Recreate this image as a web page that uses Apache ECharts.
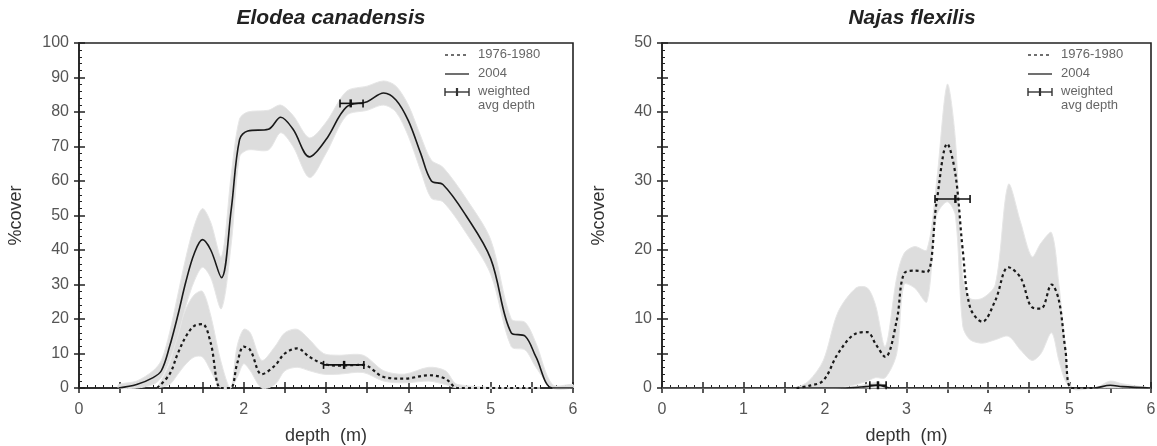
<!DOCTYPE html>
<html>
<head>
<meta charset="utf-8">
<script src="https://cdn.jsdelivr.net/npm/echarts@6/dist/echarts.min.js"></script>
<style>
html, body { margin: 0; background: #fff; }
#main { width: 1157px; height: 446px; }
</style>
</head>
<body>
<div id="main"></div>
<script>
// Elodea canadensis, 1976-1980 (dashed)
const elodeaOldDepth = [0.95, 1.1, 1.2, 1.3, 1.4, 1.5, 1.6, 1.72, 1.84, 1.92, 2.0, 2.08, 2.22, 2.38, 2.5, 2.65, 2.8, 2.97, 3.15, 3.45, 3.7, 3.95, 4.25, 4.45, 4.6, 5.6]
const elodeaOldMean = [0, 4, 10, 15, 18, 18.5, 13, 0, 0, 7, 12, 11, 4, 6.5, 10, 11.5, 9, 7, 6.5, 6.7, 3.2, 2.7, 3.7, 2.7, 0, 0]
const elodeaOldLow = [0, 1, 4, 7, 9, 9, 5, 0, 0, 3, 7, 5, 0, 1, 5, 6, 5, 4, 4, 4.5, 2, 1.5, 2, 1, 0, 0]
const elodeaOldHigh = [0, 7, 16, 23, 27, 28, 21, 8, 0, 12, 17, 16, 8, 12, 16, 17, 14, 10, 9.5, 9.5, 5, 4, 6, 5, 1, 0]

// Elodea canadensis, 2004 (solid)
const elodeaNewDepth = [0.48, 0.7, 0.9, 1.0, 1.1, 1.2, 1.3, 1.4, 1.5, 1.6, 1.73, 1.85, 1.95, 2.05, 2.3, 2.45, 2.6, 2.8, 3.0, 3.25, 3.5, 3.7, 3.85, 4.0, 4.15, 4.28, 4.42, 4.7, 5.0, 5.25, 5.42, 5.55, 5.75, 6.0]
const elodeaNewMean = [0, 1, 3, 5, 12, 21, 31, 39, 43, 40, 32, 52, 72, 74.5, 75, 78.5, 75, 67, 72, 81.5, 83, 85.5, 83.5, 77.5, 68, 60, 59, 50, 37.5, 16, 15, 9, 0, 0]
const elodeaNewLow = [0, 0, 1, 3, 8, 15, 24, 31, 35, 32, 23, 42, 67, 69, 69, 74, 70, 61, 68, 79, 80.5, 82, 80, 73, 63, 55, 54, 45, 33, 12, 11, 6, 0, 0]
const elodeaNewHigh = [1, 2, 5, 8, 16, 27, 38, 47, 52, 48, 38, 62, 78, 80, 80.5, 82, 79, 72.5, 77, 86, 87.5, 89, 87.5, 82, 73, 66, 64, 55, 43, 20, 19, 13, 1, 1]

// Elodea weighted avg depth (2004, 1976-1980)
const elodeaAvgDepth = [3.3, 3.22]
const elodeaAvgCover = [82.5, 6.7]
const elodeaAvgFrom = [3.17, 2.97]
const elodeaAvgTo = [3.45, 3.46]

// Najas flexilis, 1976-1980 (dashed)
const najasOldDepth = [1.65, 1.8, 1.98, 2.16, 2.38, 2.52, 2.62, 2.74, 2.88, 2.97, 3.1, 3.25, 3.37, 3.5, 3.6, 3.69, 3.78, 3.93, 4.09, 4.25, 4.4, 4.54, 4.65, 4.78, 4.87, 4.95, 5.03, 5.3]
const najasOldMean = [0, 0.3, 1.1, 5, 7.9, 8.1, 6.4, 4.5, 9.8, 16.6, 17, 16.8, 27, 35.4, 31, 20, 11.7, 9.6, 12.7, 17.5, 16, 11.7, 11.5, 15, 12.7, 5.5, 0, 0]
const najasOldLow = [0, 0, 0, 0, 0.5, 1, 1.5, 1.5, 5, 15, 14.5, 12.5, 25, 27, 25, 9, 7, 6.5, 7, 7.5, 5.5, 4, 5, 8, 4, 1, 0, 0]
const najasOldHigh = [0, 1, 4, 11, 14.5, 14.5, 12, 6, 16, 19.5, 20.5, 20, 30, 44, 36, 16, 13, 13, 15, 29.5, 24, 19, 21, 22.5, 15, 6, 0, 0]

// Najas flexilis, 2004 (solid)
const najasNewDepth = [0, 2.2, 2.5, 2.65, 2.8, 5.3, 5.5, 5.65, 6]
const najasNewMean = [0, 0, 0.2, 0.4, 0, 0, 0.4, 0.2, 0]
const najasNewLow = [0, 0, 0, 0, 0, 0, 0, 0, 0]
const najasNewHigh = [0, 0, 0.5, 0.8, 0, 0, 1, 0.6, 0]

// Najas weighted avg depth (1976-1980, 2004)
const najasAvgDepth = [3.6, 2.65]
const najasAvgCover = [27.4, 0.4]
const najasAvgFrom = [3.35, 2.55]
const najasAvgTo = [3.78, 2.75]

const titles = ['Elodea canadensis', 'Najas flexilis']
const legendLabels = ['1976-1980', '2004', 'weighted', 'avg depth']
const xLabels = ['0', '1', '2', '3', '4', '5', '6']

const font = 'Liberation Sans, Arial, sans-serif'
const ink = '#222'

function pairs(xs, ys) {
    return xs.map((x, i) => [x, ys[i]])
}

// 灰色区间
function bandSeries(axis, depth, low, high) {
    return {
        type: 'custom',
        xAxisIndex: axis,
        yAxisIndex: axis,
        data: [[depth[0], low[0]]],
        silent: true,
        z: 1,
        renderItem: function (params, api) {
            let pts = []
            for (let i = 0; i < depth.length; i++) pts.push(api.coord([depth[i], high[i]]))
            for (let i = depth.length - 1; i >= 0; i--) pts.push(api.coord([depth[i], low[i]]))
            return {
                type: 'polygon',
                shape: {points: pts, smooth: 0.3},
                style: {fill: '#dddddd', stroke: '#e6e6e6', lineWidth: 1}
            }
        }
    }
}

function lineSeries(axis, depth, mean, dashed) {
    return {
        type: 'line',
        xAxisIndex: axis,
        yAxisIndex: axis,
        data: pairs(depth, mean),
        smooth: 0.35,
        showSymbol: false,
        silent: true,
        z: 3,
        lineStyle: {
            color: '#1a1a1a',
            width: dashed ? 2.2 : 1.6,
            type: dashed ? [3, 3] : 'solid'
        }
    }
}

// 加权平均深度 误差线
function avgSeries(axis, depth, cover, from, to) {
    return {
        type: 'custom',
        xAxisIndex: axis,
        yAxisIndex: axis,
        data: depth.map((d, i) => [d, cover[i], from[i], to[i]]),
        encode: {x: 0, y: 1},
        silent: true,
        z: 5,
        renderItem: function (params, api) {
            let c = api.coord([api.value(0), api.value(1)])
            let l = api.coord([api.value(2), api.value(1)])
            let r = api.coord([api.value(3), api.value(1)])
            let st = {stroke: '#111', lineWidth: 1.6}
            return {
                type: 'group',
                children: [
                    {type: 'line', shape: {x1: l[0], y1: l[1], x2: r[0], y2: r[1]}, style: st},
                    {type: 'line', shape: {x1: l[0], y1: l[1] - 4, x2: l[0], y2: l[1] + 4}, style: st},
                    {type: 'line', shape: {x1: r[0], y1: r[1] - 4, x2: r[0], y2: r[1] + 4}, style: st},
                    {type: 'line', shape: {x1: c[0], y1: c[1] - 4, x2: c[0], y2: c[1] + 4}, style: {stroke: '#111', lineWidth: 2.5}}
                ]
            }
        }
    }
}

function xAxes(grid) {
    return [
        {
            type: 'value', gridIndex: grid, position: 'bottom', min: 0, max: 6, interval: 0.5,
            name: 'depth  (m)', nameLocation: 'middle', nameGap: 39,
            nameTextStyle: {fontFamily: font, fontSize: 18, color: '#333'},
            axisLine: {lineStyle: {color: ink, width: 1.6}},
            axisTick: {inside: true, length: 6, lineStyle: {color: ink, width: 1.5}},
            minorTick: {show: true, splitNumber: 5, length: 3, lineStyle: {color: ink, width: 1}},
            axisLabel: {
                margin: 14, fontFamily: font, fontSize: 16, color: '#555',
                formatter: v => (Number.isInteger(v) ? xLabels[v] : '')
            },
            splitLine: {show: false}
        },
        {
            type: 'value', gridIndex: grid, position: 'bottom', min: 0, max: 6, interval: 0.5,
            axisLine: {show: false},
            axisTick: {inside: false, length: 5, lineStyle: {color: ink, width: 1.5}},
            axisLabel: {show: false},
            splitLine: {show: false}
        }
    ]
}

function yAxes(grid, max, step) {
    return [
        {
            type: 'value', gridIndex: grid, position: 'left', min: 0, max: max, interval: step,
            name: '%cover', nameLocation: 'middle', nameGap: 54,
            nameTextStyle: {fontFamily: font, fontSize: 18, color: '#333'},
            axisLine: {show: true, lineStyle: {color: ink, width: 1.6}},
            axisTick: {show: true, inside: true, length: 6, lineStyle: {color: ink, width: 1.5}},
            minorTick: {show: true, splitNumber: 5, length: 3, lineStyle: {color: ink, width: 1}},
            axisLabel: {
                margin: 10, fontFamily: font, fontSize: 16, color: '#555',
                formatter: v => (v % 10 === 0 ? String(v) : '')
            },
            splitLine: {show: false}
        },
        {
            type: 'value', gridIndex: grid, position: 'left', min: 0, max: max, interval: step,
            axisLine: {show: false},
            axisTick: {show: true, inside: false, length: 5, lineStyle: {color: ink, width: 1.5}},
            axisLabel: {show: false},
            splitLine: {show: false}
        }
    ]
}

// 图例 (手绘)
function legendGraphics(bx) {
    let txt = (y, s) => ({
        type: 'text', left: bx + 33, top: y - 7,
        style: {text: s, font: '13px ' + font, fill: '#666'}
    })
    let st = {stroke: '#333', lineWidth: 1.4}
    return [
        {type: 'line', shape: {x1: bx, y1: 55, x2: bx + 24, y2: 55}, style: {stroke: '#333', lineWidth: 1.4, lineDash: [3, 3]}},
        txt(55, legendLabels[0]),
        {type: 'line', shape: {x1: bx, y1: 74, x2: bx + 24, y2: 74}, style: st},
        txt(74, legendLabels[1]),
        {type: 'line', shape: {x1: bx, y1: 92, x2: bx + 24, y2: 92}, style: st},
        {type: 'line', shape: {x1: bx, y1: 88, x2: bx, y2: 96}, style: st},
        {type: 'line', shape: {x1: bx + 24, y1: 88, x2: bx + 24, y2: 96}, style: st},
        {type: 'line', shape: {x1: bx + 12, y1: 88, x2: bx + 12, y2: 96}, style: {stroke: '#333', lineWidth: 2.2}},
        txt(92, legendLabels[2]),
        txt(106, legendLabels[3])
    ]
}

let myChart = echarts.init(document.getElementById('main'), null, {renderer: 'canvas'})
let xs = xAxes(0).concat(xAxes(1))
let ys = yAxes(0, 100, 10).concat(yAxes(1, 50, 5))

myChart.setOption({
    backgroundColor: '#fff',
    animation: false,
    title: [
        {text: titles[0], left: 326, top: 3, textAlign: 'center',
            textStyle: {fontFamily: font, fontSize: 21, fontWeight: 'bold', fontStyle: 'italic', color: '#222'}},
        {text: titles[1], left: 907, top: 3, textAlign: 'center',
            textStyle: {fontFamily: font, fontSize: 21, fontWeight: 'bold', fontStyle: 'italic', color: '#222'}}
    ],
    grid: [
        {left: 79, right: 584, top: 43, bottom: 58, outerBoundsMode: 'none', show: true, borderColor: ink, borderWidth: 1.6, backgroundColor: 'transparent'},
        {left: 662, right: 6, top: 43, bottom: 58, outerBoundsMode: 'none', show: true, borderColor: ink, borderWidth: 1.6, backgroundColor: 'transparent'}
    ],
    xAxis: xs,
    yAxis: ys,
    graphic: legendGraphics(445).concat(legendGraphics(1028)),
    series: [
        bandSeries(0, elodeaOldDepth, elodeaOldLow, elodeaOldHigh),
        bandSeries(0, elodeaNewDepth, elodeaNewLow, elodeaNewHigh),
        lineSeries(0, elodeaOldDepth, elodeaOldMean, true),
        lineSeries(0, elodeaNewDepth, elodeaNewMean, false),
        avgSeries(0, elodeaAvgDepth, elodeaAvgCover, elodeaAvgFrom, elodeaAvgTo),
        bandSeries(2, najasOldDepth, najasOldLow, najasOldHigh),
        bandSeries(2, najasNewDepth, najasNewLow, najasNewHigh),
        lineSeries(2, najasOldDepth, najasOldMean, true),
        lineSeries(2, najasNewDepth, najasNewMean, false),
        avgSeries(2, najasAvgDepth, najasAvgCover, najasAvgFrom, najasAvgTo)
    ]
})
</script>
</body>
</html>
